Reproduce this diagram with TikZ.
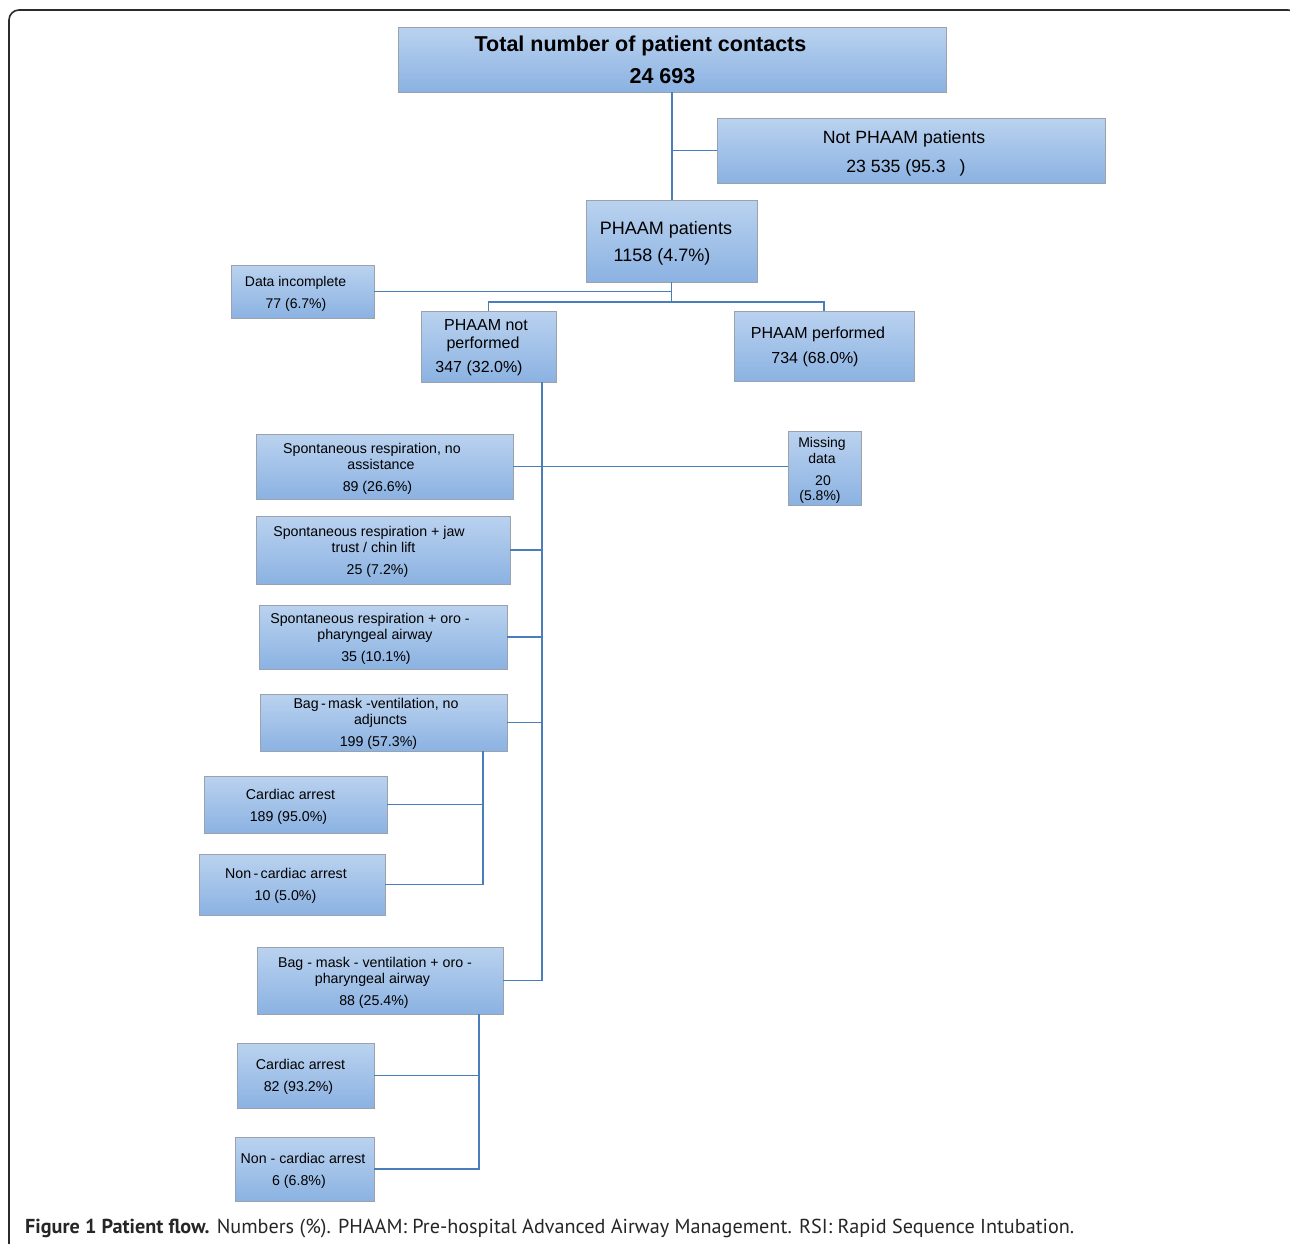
\documentclass[tikz,border=0pt]{standalone}
\usepackage{fontspec}
\setmainfont{Liberation Sans}
\newfontfamily\capfont{PT Sans}
\definecolor{boxtop}{HTML}{BAD2EF}
\definecolor{boxbot}{HTML}{8BB2E2}
\definecolor{boxedge}{HTML}{9AA3AD}
\definecolor{conncol}{HTML}{4A7EBB}
\definecolor{framecol}{HTML}{2B2B2B}
\tikzset{
  box/.style={draw=boxedge, line width=0.9pt, top color=boxtop, bottom color=boxbot,
    inner sep=0pt, outer sep=0pt, rectangle},
  txt/.style={anchor=base, inner sep=0pt, outer sep=0pt, text=black},
  conn/.style={draw=conncol, line width=1.8pt},
  frame/.style={draw=framecol, line width=1.6pt, rounded corners=10pt}
}
% box: name, x1, y1, x2, y2
\newcommand{\bx}[5]{\node[box, minimum width={(#4-#2)*1pt}, minimum height={(#5-#3)*1pt}] (#1) at ({(#2+#4)/2},{(#3+#5)/2}) {};}
% text line: name, cx, cy, size, text
\newcommand{\tx}[5]{\node[txt, font=\fontsize{#4}{#4}\selectfont] (#1) at ({#2},{#3+0.36*#4}) {#5};}
\begin{document}
\begin{tikzpicture}[x=1pt,y=-1pt]
\useasboundingbox (0,0) rectangle (1290,1243);
\begin{scope}
\clip (0,0) rectangle (1290,1243);
\draw[frame] (9,10) rectangle (1298,1275);
\end{scope}

% boxes
\bx{tot}{398}{27}{946}{92}
\bx{np}{717}{118}{1105}{183}
\bx{pp}{586}{200}{757}{282}
\bx{di}{231}{265}{374}{318}
\bx{npf}{421}{311}{556}{382}
\bx{ppf}{734}{311}{914}{381}
\bx{sa}{256}{434}{513}{499}
\bx{md}{788}{431}{861}{505}
\bx{sb}{256}{516}{510}{584}
\bx{sc}{259}{605}{507}{669}
\bx{sd}{260}{694}{507}{751}
\bx{ca}{204}{776}{387}{833}
\bx{na}{199}{854}{385}{915}
\bx{se}{257}{947}{503}{1014}
\bx{cb}{237}{1043}{374}{1108}
\bx{nb}{235}{1137}{374}{1201}

% connectors
\coordinate (trA) at (542,382);
\coordinate (tdA) at (483,751);
\coordinate (teA) at (479,1014);
\draw[conn] (tot.south) -- (tot.south |- pp.north);
\draw[conn] (tot.south |- np.west) -- (np.west);
\draw[conn] (pp.south) -- ++(0,20);
\draw[conn] (di.east) -- (di.east -| pp.south);
\draw[conn] (npf.north) -- ++(0,-9) -| (ppf.north);
\draw[conn] (trA) -- (trA |- se.east) -- (se.east);
\draw[conn] (sa.east) -- (sa.east -| trA);
\draw[conn] (sa.east -| trA) -- (md.west |- sa.east);
\draw[conn] (sb.east) -- (sb.east -| trA);
\draw[conn] (sc.east) -- (sc.east -| trA);
\draw[conn] (sd.east) -- (sd.east -| trA);
\draw[conn] (tdA) -- (tdA |- na.east) -- (na.east);
\draw[conn] (ca.east) -- (ca.east -| tdA);
\draw[conn] (teA) -- (teA |- nb.east) -- (nb.east);
\draw[conn] (cb.east) -- (cb.east -| teA);

% texts
\tx{tot1}{640.5}{44}{21.5}{\bfseries Total number of patient contacts}
\tx{tot2}{662.5}{76}{21.5}{\bfseries 24 693}
\tx{np1}{904}{137}{17.7}{Not PHAAM patients}
\tx{np2}{906}{166}{17.7}{23 535 (95.3\hspace{14pt})}
\tx{pp1}{666}{228}{18}{PHAAM patients}
\tx{pp2}{662}{255}{18}{1158 (4.7\%)}
\tx{di1}{295.5}{281}{14}{Data incomplete}
\tx{di2}{296}{303}{14}{77 (6.7\%)}
\tx{npf1}{486}{325}{16}{PHAAM not}
\tx{npf2}{483}{343}{16}{performed}
\tx{npf3}{479}{367}{16}{347 (32.0\%)}
\tx{ppf1}{818}{333}{16}{PHAAM performed}
\tx{ppf2}{815}{358}{16}{734 (68.0\%)}
\tx{sa1}{372}{448}{14.2}{Spontaneous respiration, no}
\tx{sa2}{381}{464}{14.2}{assistance}
\tx{sa3}{377.5}{486}{14.2}{89 (26.6\%)}
\tx{md1}{822}{442}{14}{Missing}
\tx{md2}{822}{458}{14}{data}
\tx{md3}{823}{480}{14}{20}
\tx{md4}{820}{495}{14}{(5.8\%)}
\tx{sb1}{369}{531}{14.2}{Spontaneous respiration + jaw}
\tx{sb2}{373.5}{547}{14.2}{trust / chin lift}
\tx{sb3}{377.5}{569}{14.2}{25 (7.2\%)}
\tx{sc1}{370}{618}{14.2}{Spontaneous respiration + oro -}
\tx{sc2}{375}{634}{14.2}{pharyngeal airway}
\tx{sc3}{376}{656}{14.2}{35 (10.1\%)}
\tx{sd1}{376}{703}{14.2}{Bag\,-\,mask -ventilation, no}
\tx{sd2}{380.5}{719}{14.2}{adjuncts}
\tx{sd3}{378.5}{741}{14.2}{199 (57.3\%)}
\tx{ca1}{290.5}{794}{14.2}{Cardiac arrest}
\tx{ca2}{288.5}{816}{14.2}{189 (95.0\%)}
\tx{na1}{286}{873}{14.2}{Non\,-\,cardiac arrest}
\tx{na2}{285.5}{895}{14.2}{10 (5.0\%)}
\tx{se1}{375}{962}{14.2}{Bag - mask - ventilation + oro -}
\tx{se2}{372.5}{978}{14.2}{pharyngeal airway}
\tx{se3}{374}{1000}{14.2}{88 (25.4\%)}
\tx{cb1}{300.5}{1064}{14.2}{Cardiac arrest}
\tx{cb2}{298.5}{1086}{14.2}{82 (93.2\%)}
\tx{nb1}{303}{1158}{14.2}{Non - cardiac arrest}
\tx{nb2}{299}{1180}{14.2}{6 (6.8\%)}

% caption
\node[anchor=base west, inner sep=0pt, font=\capfont\fontsize{20.2}{20.2}\selectfont, text=black!85] (cap) at (25,1233)
  {\textbf{Figure 1 Patient flow.} Numbers (\%). PHAAM: Pre-hospital Advanced Airway Management. RSI: Rapid Sequence Intubation.};
\end{tikzpicture}
\end{document}
